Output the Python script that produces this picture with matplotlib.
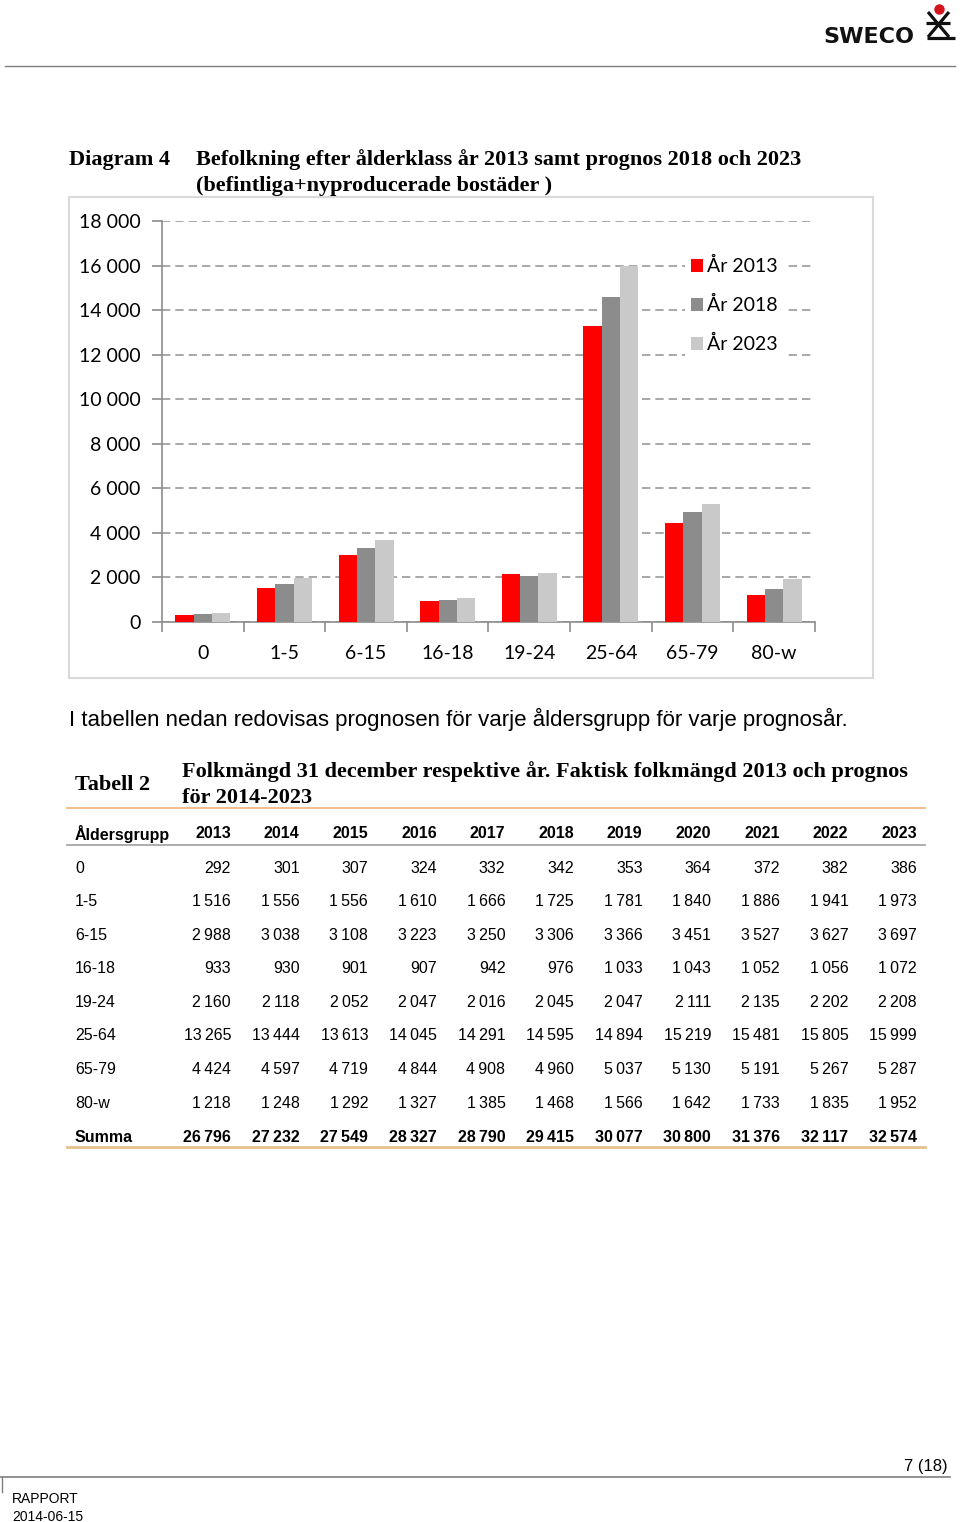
import numpy as np
import matplotlib.pyplot as plt
from matplotlib.patches import Rectangle
from matplotlib.lines import Line2D

# data
groups = ['0', '1-5', '6-15', '16-18', '19-24', '25-64', '65-79', '80-w']
years = ['2013', '2014', '2015', '2016', '2017', '2018', '2019', '2020', '2021', '2022', '2023']
pop_0 = [292, 301, 307, 324, 332, 342, 353, 364, 372, 382, 386]
pop_1_5 = [1516, 1556, 1556, 1610, 1666, 1725, 1781, 1840, 1886, 1941, 1973]
pop_6_15 = [2988, 3038, 3108, 3223, 3250, 3306, 3366, 3451, 3527, 3627, 3697]
pop_16_18 = [933, 930, 901, 907, 942, 976, 1033, 1043, 1052, 1056, 1072]
pop_19_24 = [2160, 2118, 2052, 2047, 2016, 2045, 2047, 2111, 2135, 2202, 2208]
pop_25_64 = [13265, 13444, 13613, 14045, 14291, 14595, 14894, 15219, 15481, 15805, 15999]
pop_65_79 = [4424, 4597, 4719, 4844, 4908, 4960, 5037, 5130, 5191, 5267, 5287]
pop_80_w = [1218, 1248, 1292, 1327, 1385, 1468, 1566, 1642, 1733, 1835, 1952]
summa = [26796, 27232, 27549, 28327, 28790, 29415, 30077, 30800, 31376, 32117, 32574]
chart_years = ['2013', '2018', '2023']
chart_colors = ['#ff0000', '#8c8c8c', '#c9c9c9']
yticks = np.arange(0, 18001, 2000)

rows = [pop_0, pop_1_5, pop_6_15, pop_16_18, pop_19_24, pop_25_64, pop_65_79, pop_80_w]

W, H = 960, 1522
fig = plt.figure(figsize=(9.6, 15.22), dpi=100)


def fx(x):
    return x / W


def fy(y):
    return 1 - y / H


def sp(n):
    # space-grouped thousands
    return f'{n:,}'.replace(',', '\u2009')


serif = ['Liberation Serif', 'DejaVu Serif']
sans = ['Liberation Sans', 'DejaVu Sans']
cal = ['Lato', 'DejaVu Sans']
tsize = 11.5

# header
fig.add_artist(Line2D([fx(5), fx(955)], [fy(66), fy(66)], color='#7f7f7f', lw=1))
fig.text(fx(823), fy(37), 'SWECO', fontsize=16, fontweight='bold', family='DejaVu Sans',
         va='center', ha='left', color='#111111')
logo = [((928, 12), (949, 37)), ((949, 12), (928, 37)), ((926, 23), (950, 23)),
        ((927, 38), (955, 38))]
for (x0, y0), (x1, y1) in logo:
    fig.add_artist(Line2D([fx(x0), fx(x1)], [fy(y0), fy(y1)], color='#111111', lw=2.3,
                          solid_capstyle='butt'))
fig.add_artist(Line2D([fx(938.5)], [fy(9)], marker='o', markersize=6.5, color='#d4141c', lw=0))

# diagram title
fig.text(fx(69), fy(160), 'Diagram 4', fontsize=16, fontweight='bold', family=serif, va='center')
fig.text(fx(196), fy(160), 'Befolkning efter ålderklass år 2013 samt prognos 2018 och 2023',
         fontsize=16, fontweight='bold', family=serif, va='center')
fig.text(fx(196), fy(186), '(befintliga+nyproducerade bostäder )',
         fontsize=16, fontweight='bold', family=serif, va='center')

# chart frame
fig.add_artist(Rectangle((fx(69), fy(678)), fx(873) - fx(69), fy(197) - fy(678),
                         transform=fig.transFigure, fill=False, edgecolor='#d9d9d9', lw=1.5))

ax = fig.add_axes([fx(162), fy(622), fx(815) - fx(162), fy(221) - fy(622)])
idx = np.arange(len(groups))
chart_data = [[r[years.index(y)] for r in rows] for y in chart_years]
bw = 0.225
for i, (lab, vals, col) in enumerate(zip(chart_years, chart_data, chart_colors)):
    ax.bar(idx + (i - 1) * bw, vals, bw, color=col, label='År ' + lab, zorder=3)

ax.set_xlim(-0.5, len(groups) - 0.5)
ax.set_ylim(0, 18000)
ax.set_yticks(yticks)
ax.set_yticklabels([f'{v:,}'.replace(',', ' ') for v in yticks], fontsize=14, family=cal)
ax.yaxis.grid(True, linestyle=(0, (5, 3)), color='#9a9a9a', lw=1.2, zorder=0)
ax.set_xticks(np.arange(len(groups) + 1) - 0.5)
ax.set_xticklabels([])
ax.set_xticks(idx, minor=True)
ax.set_xticklabels(groups, minor=True, fontsize=14, family=cal)
ax.tick_params(axis='x', which='major', length=7, color='#8c8c8c', width=1.2)
ax.tick_params(axis='x', which='minor', length=0, pad=16.5)
ax.tick_params(axis='y', length=7, color='#8c8c8c', width=1.2, pad=8.5)
for s in ['top', 'right']:
    ax.spines[s].set_visible(False)
for s in ['left', 'bottom']:
    ax.spines[s].set_color('#8c8c8c')
    ax.spines[s].set_linewidth(1.2)
leg = ax.legend(loc='upper left', bbox_to_anchor=(fx(685), fy(251)), bbox_transform=fig.transFigure,
                frameon=True, facecolor='white', edgecolor='none', framealpha=1, fancybox=False,
                prop={'family': cal, 'size': 14}, handlelength=0.65, handleheight=0.65,
                handletextpad=0.2, labelspacing=1.08, borderpad=0.3, borderaxespad=0)
leg.set_zorder(5)

# text between
fig.text(fx(69), fy(719), 'I tabellen nedan redovisas prognosen för varje åldersgrupp för varje prognosår.',
         fontsize=16, family=sans, va='center')

# table
fig.text(fx(75), fy(785), 'Tabell 2', fontsize=16, fontweight='bold', family=serif, va='center')
fig.text(fx(182), fy(772), 'Folkmängd 31 december respektive år. Faktisk folkmängd 2013 och prognos',
         fontsize=16, fontweight='bold', family=serif, va='center')
fig.text(fx(182), fy(798), 'för 2014-2023', fontsize=16, fontweight='bold', family=serif, va='center')
fig.add_artist(Line2D([fx(67), fx(925)], [fy(808), fy(808)], color='#f0b27a', lw=1.2))
fig.add_artist(Line2D([fx(67), fx(925)], [fy(845), fy(845)], color='#a0a0a0', lw=1.2))
fig.add_artist(Line2D([fx(67), fx(925)], [fy(1147), fy(1147)], color='#e3c08c', lw=2))

col_right = [231 + 68.6 * k for k in range(len(years))]
fig.text(fx(75), fy(834), 'Åldersgrupp', fontsize=tsize, fontweight='bold', family=sans, va='center')
for x, y in zip(col_right, years):
    fig.text(fx(x), fy(834), y, fontsize=tsize, fontweight='bold', family=sans, va='center', ha='right')
row_y = [868 + 33.6 * k for k in range(len(groups))]
for g, r, yy in zip(groups, rows, row_y):
    fig.text(fx(75), fy(yy), g, fontsize=tsize, family=sans, va='center')
    for x, v in zip(col_right, r):
        fig.text(fx(x), fy(yy), sp(v), fontsize=tsize, family=sans, va='center', ha='right')
fig.text(fx(75), fy(1137), 'Summa', fontsize=tsize, fontweight='bold', family=sans, va='center')
for x, v in zip(col_right, summa):
    fig.text(fx(x), fy(1137), sp(v), fontsize=tsize, fontweight='bold', family=sans, va='center', ha='right')

# footer
fig.text(fx(948), fy(1466), '7 (18)', fontsize=12, family=sans, va='center', ha='right')
fig.add_artist(Line2D([fx(0), fx(950)], [fy(1477), fy(1477)], color='#7f7f7f', lw=1.2))
fig.add_artist(Line2D([fx(2), fx(2)], [fy(1477), fy(1492)], color='#7f7f7f', lw=1))
fig.text(fx(12), fy(1499), 'RAPPORT', fontsize=10, family=sans, va='center')
fig.text(fx(12), fy(1517), '2014-06-15', fontsize=10, family=sans, va='center')

fig.savefig('out.png', dpi=100)
